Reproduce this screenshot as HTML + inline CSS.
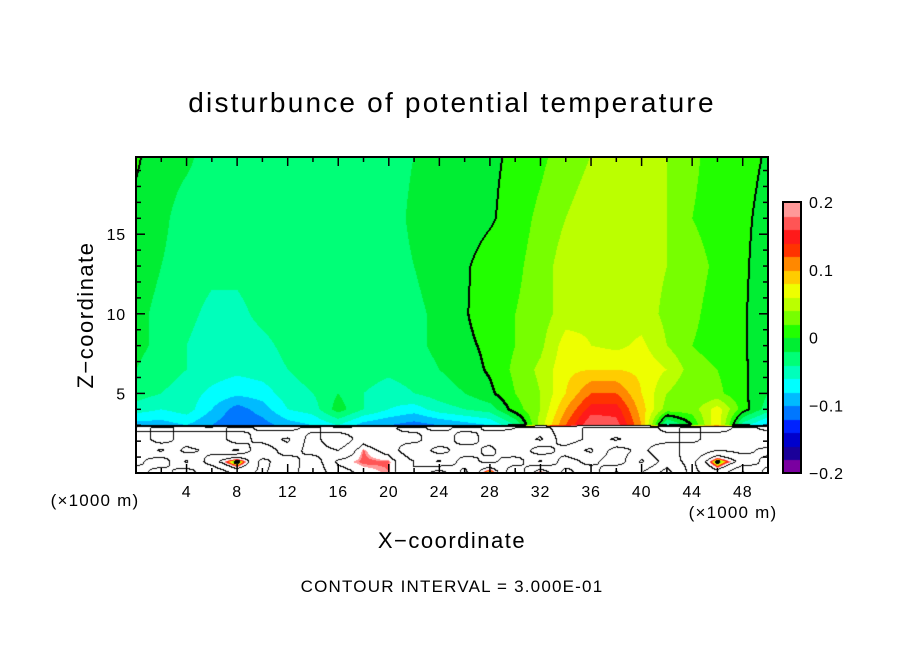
<!DOCTYPE html>
<html><head><meta charset="utf-8">
<style>
html,body{margin:0;padding:0;background:#fff;}
#wrap{position:relative;width:904px;height:654px;overflow:hidden;font-family:"Liberation Sans",sans-serif;}
canvas{position:absolute;}
svg{position:absolute;left:0;top:0;}
svg text{font-family:"Liberation Sans",sans-serif;fill:#000;}
</style></head>
<body>
<div id="wrap">
<canvas id="field" width="632" height="316" style="left:136px;top:157px"></canvas>
<canvas id="cbar" width="18" height="271" style="left:783px;top:202px"></canvas>
<svg id="ov" width="904" height="654">
<text x="452" y="112" font-size="28" text-anchor="middle" letter-spacing="2.2">disturbunce of potential temperature</text>
<text x="0" y="0" font-size="22" text-anchor="middle" letter-spacing="1.5" transform="translate(93,315) rotate(-90)">Z−coordinate</text>
<text x="452" y="548" font-size="22" text-anchor="middle" letter-spacing="1.5">X−coordinate</text>
<text x="95" y="506" font-size="17" text-anchor="middle" letter-spacing="1.2">(×1000 m)</text>
<text x="733" y="518" font-size="17" text-anchor="middle" letter-spacing="1.2">(×1000 m)</text>
<text x="452" y="592" font-size="17" text-anchor="middle" letter-spacing="1.2">CONTOUR INTERVAL = 3.000E-01</text>
<g id="ticks"></g>
<rect x="136" y="157" width="632" height="316" fill="none" stroke="#000" stroke-width="2"/>
<rect x="783" y="202" width="18" height="271" fill="none" stroke="#000" stroke-width="2"/>
</svg>
</div>
<script>
// ---- data (values in units of 0.01 K) ----
const xGrid = [0,2,4,6,8,10,12,14,16,18,20,22,24,26,28,30,32,34,36,38,40,42,44,46,48,50];
const zGrid = [0,0.7,1.4,2.1,2.8,3,4,5,6.5,8,10,13,16,20];
const rowZ0   = [45,75,40,90,50,65,40,85,40,25,18,60,12,70,-5,95,5,70,40,95,60,18,70,40,95,50];
const rowZ07  = [70,40,95,45,-8,70,40,80,25,16,17,60,95,45,70,40,95,45,70,40,95,45,70,-5,40,70];
const rowZ14  = [60,95,50,70,95,30,80,45,60,17,40,90,45,80,50,90,40,75,95,45,70,30,90,60,70,50];
const rowZ21  = [90,40,80,90,40,75,95,45,90,40,60,45,90,40,75,65,95,40,70,95,70,75,45,90,60,90];
const rowZ28  = [45,70,50,45,70,55,50,70,40,50,55,70,50,70,55,60,75,40,70,60,80,50,70,40,75,50];
const rowZ3   = [-9,-9,-8,-10,-12,-11,-9,-8,-6,-9,-10,-11,-10,-9,-8,-4,5,12,18,17,10,-5,0,8,-5,-9];
const rowZ4   = [-5,-6,-5,-8,-11,-9,-6,-5,-1,-4,-6,-7,-5,-4,-3,1,4,10,15,15,9,3,3,7,1,-3];
const rowZ5   = [-3,-4,-5,-6.5,-7.5,-7,-5,-4,-2,-4,-5,-4,-3,-2,-0.5,2,4,8,12,12,8,4,2,2.5,0.5,-2];
const rowZ65  = [-2,-3,-4,-5,-5.5,-5,-4,-3,-3,-3,-3.5,-3,-2,-1,0.3,2.5,4.5,7.5,8,8,7.5,6,3,2,0.5,-2];
const rowZ8   = [-1.5,-2.5,-4,-5,-5,-4.5,-3.5,-3,-3,-3,-3,-2.5,-1.5,-0.5,0.5,2,3.5,7,6,5.5,6.5,4,2,1,0.3,-1.5];
const rowZ10  = [-1.5,-2.5,-3.5,-4.5,-4.5,-3.5,-3,-3,-3,-3,-3,-2.5,-1.5,-0.2,1.2,2,3,5,5.5,5,5,3.5,2.5,1,0.3,-1.5];
const rowZ13  = [-1,-2,-3,-3.5,-3.5,-3,-3,-3,-3,-3,-3,-2,-1,-0.3,1,1.5,3,5,5,5,5,4,3,1.5,0.5,-1.5];
const rowZ16  = [-0.5,-1.5,-3,-3,-3,-3,-3,-3,-3,-3,-3,-1.5,-1,-1,-0.3,1,2.5,4,5,5,5,4,2,1,0.6,-1];
const rowZ20  = [0.3,-1,-1.5,-3,-3,-3,-3,-3,-3,-3,-3,-2,-1,-1,-0.5,0.5,1.5,3,4,5,5,4,2.5,1,1,-0.3];
const field = [rowZ0,rowZ07,rowZ14,rowZ21,rowZ28,rowZ3,rowZ4,rowZ5,rowZ65,rowZ8,rowZ10,rowZ13,rowZ16,rowZ20];
const levelColors = ["#7a00a0","#1a0099","#0000cc","#0022ff","#0077ff","#00bbff","#00ffff","#00ffbb","#00ff77","#00ee33",
                     "#22ff00","#77ff00","#bbff00","#eeff00","#ffcc00","#ff8800","#ff3300","#ff1a1a","#ff5555","#ff9999"];
const cbarLabels = ["0.2","0.1","0","−0.1","−0.2"];
const cbarValues = [20,10,0,-10,-20];
const xTickLabels = [4,8,12,16,20,24,28,32,36,40,44,48];
const yTickLabels = [5,10,15];

// ---- axes ----
const PX=136, PY=157, PW=632, PH=316, XMAX=50, ZMAX=19.85;
function sx(x){return PX + x/XMAX*PW;}
function sz(z){return PY+PH - z/ZMAX*PH;}
function hex(c){return [parseInt(c.substr(1,2),16),parseInt(c.substr(3,2),16),parseInt(c.substr(5,2),16)];}
const rgb = levelColors.map(hex);

function sample(x,z){
  let i=Math.min(Math.floor(x/2), xGrid.length-2); if(i<0)i=0;
  const tx=(x-xGrid[i])/(xGrid[i+1]-xGrid[i]);
  let j=0; while(j<zGrid.length-2 && z>zGrid[j+1]) j++;
  let tz=(z-zGrid[j])/(zGrid[j+1]-zGrid[j]); tz=Math.max(0,Math.min(1,tz));
  const a=field[j][i],b=field[j][i+1],c=field[j+1][i],d=field[j+1][i+1];
  return (a*(1-tx)+b*tx)*(1-tz)+(c*(1-tx)+d*tx)*tz;
}

// ---- field ----
(function(){
  const cv=document.getElementById('field'), ctx=cv.getContext('2d');
  const img=ctx.createImageData(PW,PH), D=img.data;
  const vals=new Float32Array(PW*PH);
  for(let py=0;py<PH;py++)for(let px=0;px<PW;px++){
    const x=(px+0.5)/PW*XMAX, z=(PH-py-0.5)/PH*ZMAX;
    vals[py*PW+px]=sample(x,z);
  }
  for(let k=0;k<PW*PH;k++){
    const v=vals[k]; let c=[255,255,255];
    if(v>=-20 && v<20){ c=rgb[Math.min(19,Math.floor((v+20)/2))]; }
    D[k*4]=c[0];D[k*4+1]=c[1];D[k*4+2]=c[2];D[k*4+3]=255;
  }
  function lev(v){return Math.floor(v/30);}
  for(let py=0;py<PH-1;py++)for(let px=0;px<PW-1;px++){
    const k=py*PW+px, L=lev(vals[k]);
    if(L!==lev(vals[k+1]) || L!==lev(vals[k+PW])){
      const thick = (vals[k]<=0)!==(vals[k+1]<=0) || (vals[k]<=0)!==(vals[k+PW]<=0);
      const ks = thick?[k,k+1,k+PW]:[k];
      for(const q of ks){D[q*4]=0;D[q*4+1]=0;D[q*4+2]=0;}
    }
  }
  ctx.putImageData(img,0,0);
})();

// ---- colorbar ----
(function(){
  const cv=document.getElementById('cbar'), ctx=cv.getContext('2d');
  const h=271;
  for(let i=0;i<20;i++){
    ctx.fillStyle=levelColors[i];
    const y0=h - (i+1)*h/20;
    ctx.fillRect(0,Math.floor(y0),18,Math.ceil(h/20)+1);
  }
})();

// ---- ticks & labels ----
(function(){
  const g=document.getElementById('ticks'), NS='http://www.w3.org/2000/svg';
  function line(x1,y1,x2,y2,name){
    const l=document.createElementNS(NS,'line');
    l.setAttribute('x1',x1);l.setAttribute('y1',y1);l.setAttribute('x2',x2);l.setAttribute('y2',y2);
    l.setAttribute('stroke','#000');l.setAttribute('stroke-width','1.5');
    
    
    g.appendChild(l);
  }
  function text(x,y,s,anchor,name){
    const t=document.createElementNS(NS,'text');
    t.setAttribute('x',x);t.setAttribute('y',y);t.setAttribute('font-size','16');t.setAttribute('text-anchor',anchor);
    t.setAttribute('letter-spacing','0.8');
    t.textContent=s;
    
    
    g.appendChild(t);
  }
  for(let x=2;x<XMAX;x+=2){
    const len=(x%4===0)?9:5;
    line(sx(x),PY+PH,sx(x),PY+PH-len,'x-tick');
    line(sx(x),PY,sx(x),PY+len,'x-tick-top');
  }
  for(let z=1;z<ZMAX;z+=1){
    const len=(z%5===0)?9:5;
    line(PX,sz(z),PX+len,sz(z),'y-tick');
    line(PX+PW,sz(z),PX+PW-len,sz(z),'y-tick-right');
  }
  xTickLabels.forEach(v=>text(sx(v),497,String(v),'middle','x-tick-label'));
  yTickLabels.forEach(v=>text(126,sz(v)+6,String(v),'end','y-tick-label'));
  cbarValues.forEach((v,i)=>text(809,202+(20-v)/40*271+6,cbarLabels[i],'start','colorbar-label'));
})();
</script>
</body></html>
